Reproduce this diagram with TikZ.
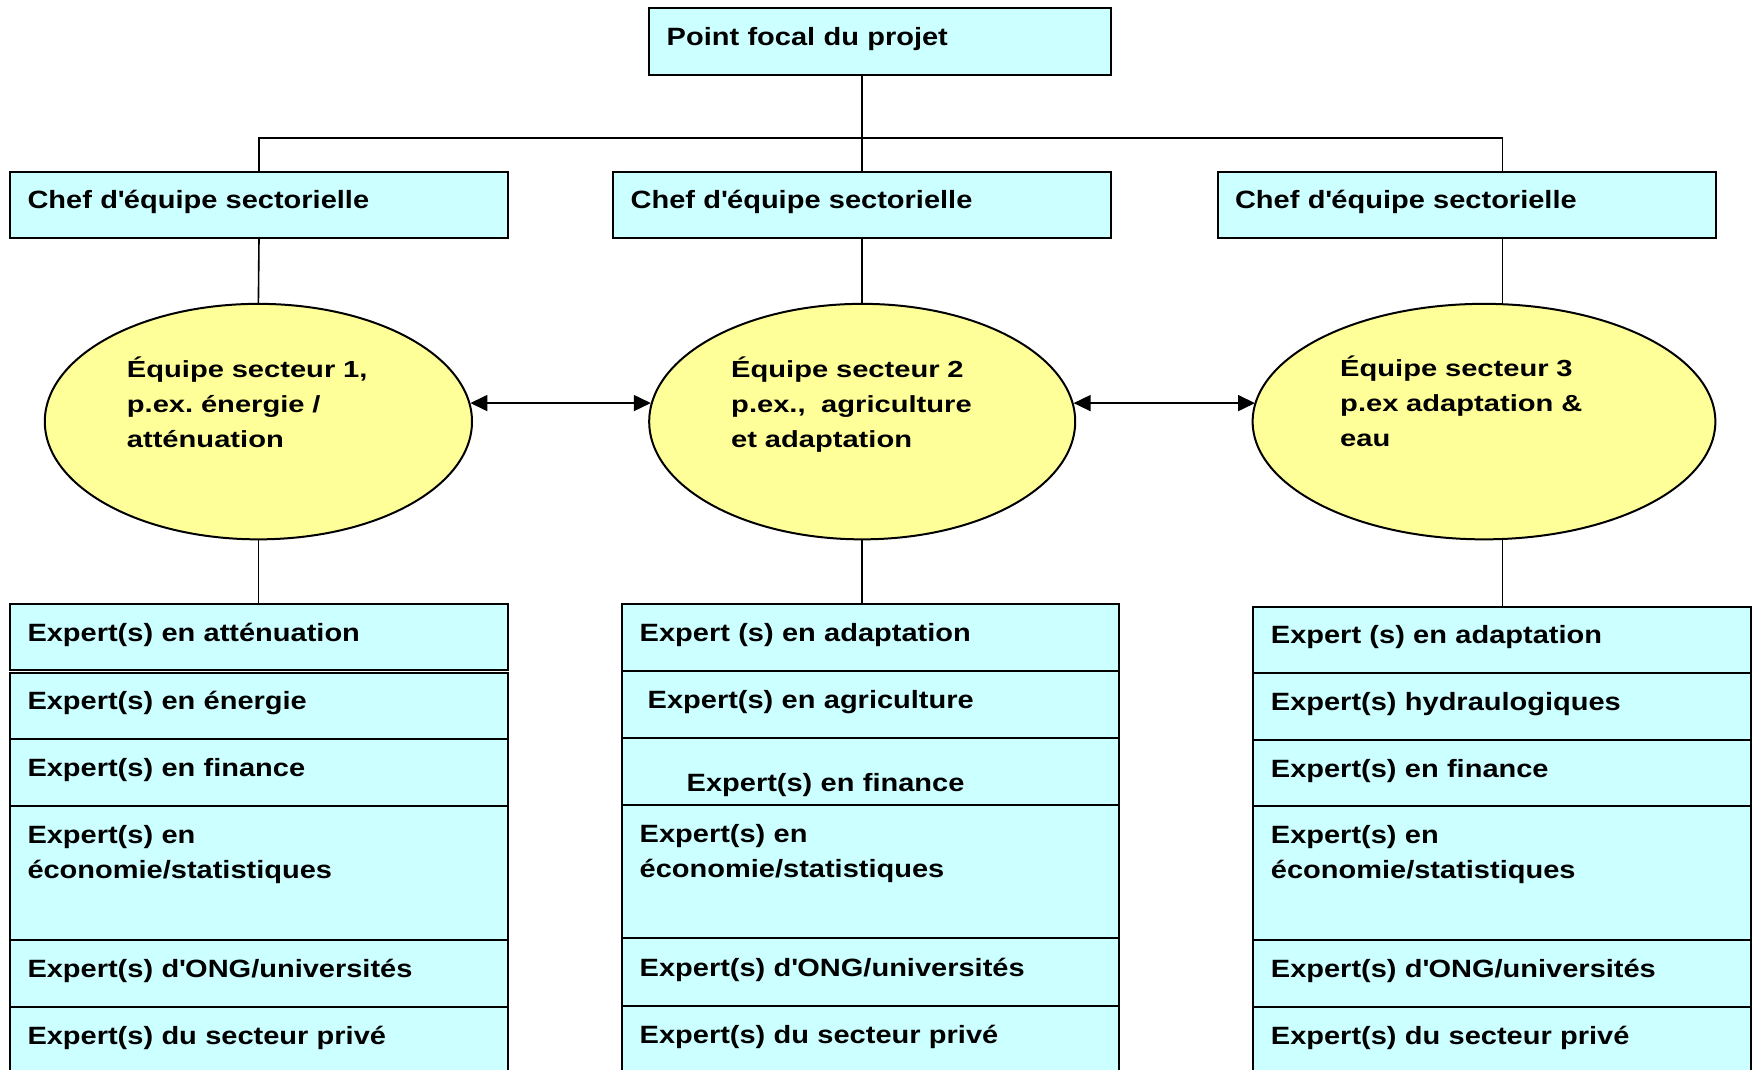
\documentclass[tikz,border=0pt]{standalone}
\usepackage{fontspec}
\setmainfont{Liberation Sans}[FakeStretch=1.16]
\newfontfamily\eqfont{Liberation Sans}[FakeStretch=1.25]
\usetikzlibrary{shapes,arrows.meta}
\definecolor{boxcyan}{HTML}{CCFFFF}
\definecolor{eqyellow}{HTML}{FFFF99}
\frenchspacing

\begin{document}
\begin{tikzpicture} [x=1pt,y=-1pt,
  box/.style= {draw,line width=2pt,fill=boxcyan,inner xsep=17.5pt,inner ysep=0pt,text height=18pt,text depth=10pt,align=left,font=\fontsize{25}{35}\selectfont\bfseries},
  cell/.style= {box,minimum width=498pt,text width=463pt},
  midcell/.style= {box,minimum width=497pt,text width=462pt},
  twoline/.style= {text depth=77pt},
  eq/.style= {shape=ellipse,draw,line width=2pt,fill=eqyellow,inner sep=0pt,minimum height=235.5pt},
  eqtxt/.style= {anchor=base west,inner sep=0pt,text width=320pt,align=left,font=\eqfont\fontsize{23.3}{35}\selectfont\bfseries},
  link/.style= {line width=1.6pt},
  dbl/.style= {{Triangle[length=17pt,width=16pt]}-{Triangle[length=17pt,width=16pt]},line width=1.7pt}]
  \useasboundingbox (0,0) rectangle (1758,1070);
  % Top
  {\node[box,minimum width=462pt,text width=427pt,minimum height=67.3pt] (focal) at (880.2,41.5) {Point focal du projet};}
  {\node[cell,minimum height=66.2pt] (chef1) at (259,204.6) {Chef d\textquotesingle équipe sectorielle};}
  {\node[cell,minimum height=66.2pt] (chef2) at (862.2,204.6) {Chef d\textquotesingle équipe sectorielle};}
  {\node[cell,minimum height=66.2pt] (chef3) at (1466.5,204.6) {Chef d\textquotesingle équipe sectorielle};}
  % Teams
  {\node[eq,minimum width=427.2pt] (eq1) at (258.4,421.6) {};}
  {\node[eq,minimum width=426pt] (eq2) at (862.2,421.6) {};}
  {\node[eq,minimum width=462.7pt] (eq3) at (1484,421.6) {};}
  {\node[eqtxt] (eqt1) at (126.7,377.3) {Équipe secteur 1,\\p.ex. énergie /\\atténuation};}
  {\node[eqtxt] (eqt2) at (731,377.3) {Équipe secteur 2\\p.ex.,~~agriculture\\et adaptation};}
  {\node[eqtxt] (eqt3) at (1340,376.5) {Équipe secteur 3\\p.ex adaptation \&\\eau};}
  % Column 1
  {\node[cell,minimum height=65.7pt] (1;1) at (259,637.15) {Expert(s) en atténuation};}
  {\node[cell,minimum height=65.9pt] (1;2) at (259,705.95) {Expert(s) en énergie};}
  {\node[cell,minimum height=67.2pt] (1;3) at (259,772.5) {Expert(s) en finance};}
  {\node[cell,twoline,minimum height=133.5pt] (1;4) at (259,872.85) {Expert(s) en\\économie/statistiques};}
  {\node[cell,minimum height=67.2pt] (1;5) at (259,973.2) {Expert(s) d\textquotesingle ONG/universités};}
  {\node[cell,minimum height=67.2pt] (1;6) at (259,1040.4) {Expert(s) du secteur privé};}
  % Column 2
  {\node[midcell,minimum height=66.2pt] (2;1) at (870.7,637.4) {Expert (s) en adaptation};}
  {\node[midcell,minimum height=67.2pt] (2;2) at (870.7,704.1) {\hspace*{8pt}Expert(s) en agriculture};}
  {\node[midcell,minimum height=67.3pt,text height=41pt,text depth=0pt] (2;3) at (870.7,771.35) {\hspace*{47pt}Expert(s) en finance};}
  {\node[midcell,twoline,minimum height=133.4pt] (2;4) at (870.7,871.7) {Expert(s) en\\économie/statistiques};}
  {\node[midcell,minimum height=67.3pt] (2;5) at (870.7,972.05) {Expert(s) d\textquotesingle ONG/universités};}
  {\node[midcell,minimum height=67.2pt] (2;6) at (870.7,1039.3) {Expert(s) du secteur privé};}
  % Column 3
  {\node[cell,minimum height=66.1pt] (3;1) at (1502.4,639.65) {Expert (s) en adaptation};}
  {\node[cell,minimum height=67.3pt] (3;2) at (1502.4,706.35) {Expert(s) hydraulogiques};}
  {\node[cell,minimum height=66.1pt] (3;3) at (1502.4,773.05) {Expert(s) en finance};}
  {\node[cell,twoline,minimum height=133.5pt] (3;4) at (1502.4,872.85) {Expert(s) en\\économie/statistiques};}
  {\node[cell,minimum height=67.2pt] (3;5) at (1502.4,973.2) {Expert(s) d\textquotesingle ONG/universités};}
  {\node[cell,minimum height=67.2pt] (3;6) at (1502.4,1040.4) {Expert(s) du secteur privé};}
  % Lines
  \coordinate (bus) at (863,138);
  \draw[link] (focal.south -| chef2.north) -- (chef2.north);
  \draw[link] (chef1.north) |- (bus) -| (chef3.north -| 3;1.north);
  \draw[link] (chef1.south) -- (eq1.north);
  \draw[link] (chef2.south) -- (eq2.north);
  \draw[link] (chef3.south -| 3;1.north) -- (eq3.north -| 3;1.north);
  \draw[link] (eq1.south) -- (eq1.south |- 1;1.north);
  \draw[link] (eq2.south) -- (eq2.south |- 2;1.north);
  \draw[link] (eq3.south -| 3;1.north) -- (3;1.north);
  \draw[dbl] (eq1.5) -- (eq1.5 -| eq2.175);
  \draw[dbl] (eq2.5) -- (eq2.5 -| eq3.175);
\end{tikzpicture}
\end{document}
